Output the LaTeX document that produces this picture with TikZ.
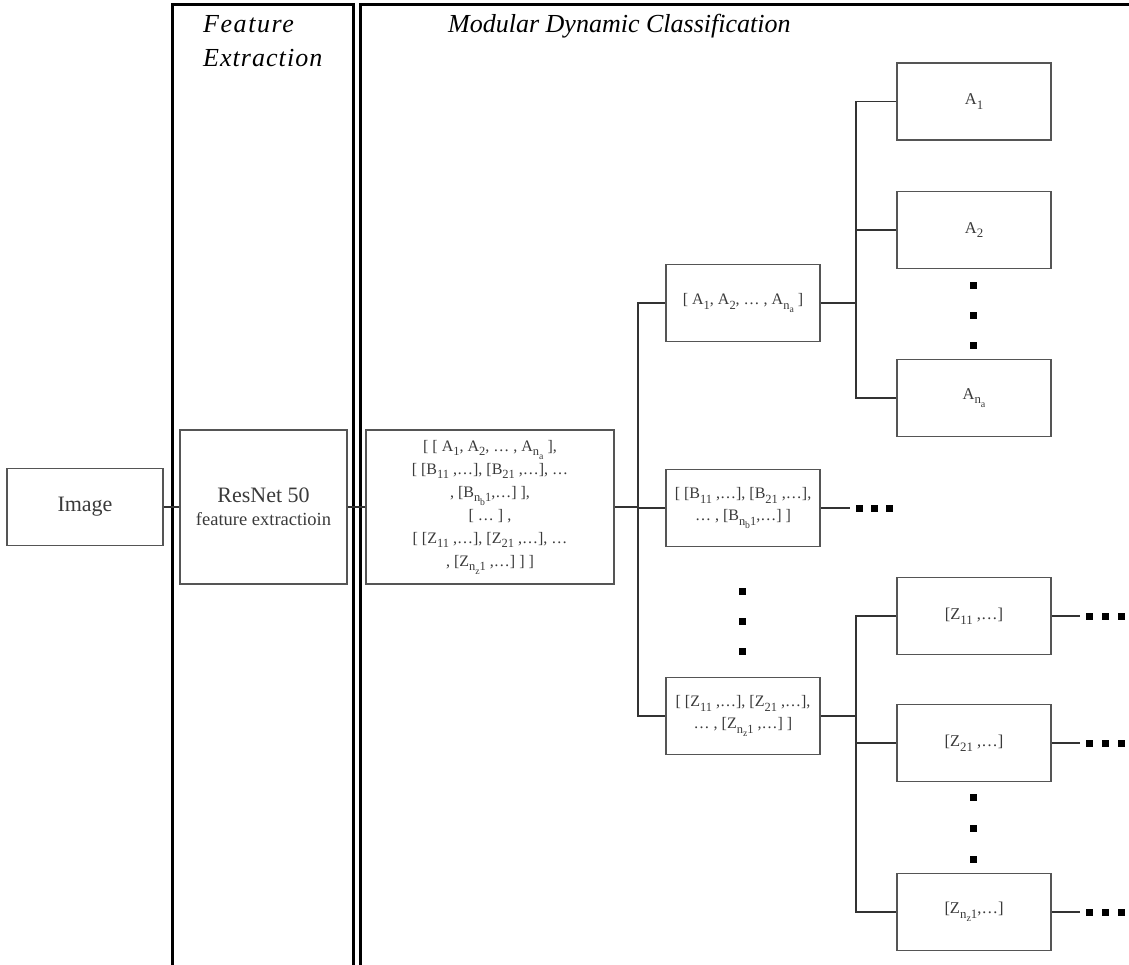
\documentclass[tikz,border=0pt]{standalone}
\usepackage{graphicx}
\usepackage{fontspec}
\setmainfont{Liberation Serif}
\definecolor{boxline}{HTML}{555555}
\definecolor{boxtext}{HTML}{3A3A3A}
% lowered, slightly reduced index
\newcommand{\sbs}[1]{\raisebox{-0.28em}{\scalebox{0.78}{#1}}}
\begin{document}
\begin{tikzpicture}[x=1pt,y=-1pt,
  box/.style={draw=boxline, line width=1.3pt, rectangle, inner sep=2pt,
    text=boxtext, align=center, minimum width=154pt, minimum height=77pt},
  panel/.style={draw=black, line width=3pt},
  link/.style={draw=black!80, line width=1.3pt},
  dotsq/.style={fill=black, rectangle, inner sep=0pt, minimum size=7pt},
  title/.style={font=\fontsize{26}{34}\selectfont\itshape, anchor=base west, inner sep=0pt},
  listfont/.style={font=\fontsize{16}{23}\selectfont},
  leaffont/.style={font=\fontsize{16.5}{20}\selectfont}]
\useasboundingbox (0,0) rectangle (1129,964);

% stage panels
\draw[panel] (172,970) -- (172,4) -- (353,4) -- (353,970);
\draw[panel] (360,970) -- (360,4) -- (1135,4);
\node[title] (tfe1) at (203,32) {\addfontfeature{LetterSpace=6}Feature};
\node[title] (tfe2) at (203,66) {\addfontfeature{LetterSpace=4}Extraction};
\node[title] (tmdc) at (448,32) {Modular Dynamic Classification};

% input and backbone
\node[box, minimum width=156pt, font=\fontsize{22}{26}\selectfont] (img) at (85,507) {Image};
\node[box, minimum width=167pt, minimum height=154pt, font=\fontsize{22}{23}\selectfont] (resnet) at (263.5,507)
  {ResNet 50\\{\fontsize{18.5}{23}\selectfont feature extractioin}};
\node[box, minimum width=248pt, minimum height=154pt, listfont] (big) at (490,507)
  {{[} [ A\sbs{1}, A\sbs{2}, … , A\sbs{n\sbs{a}} ],\\
   {[} [B\sbs{11} ,…], [B\sbs{21} ,…], …\\
   , [B\sbs{n\sbs{b}1},…] ],\\
   {[} … ] ,\\
   {[} [Z\sbs{11} ,…], [Z\sbs{21} ,…], …\\
   , [Z\sbs{n\sbs{z}1} ,…] ] ]};

% second level
\node[box, listfont] (la) at (743,303) {{[} A\sbs{1}, A\sbs{2}, … , A\sbs{n\sbs{a}} ]};
\node[box, listfont, font=\fontsize{16}{22}\selectfont] (lb) at (743,508) {{[} [B\sbs{11} ,…], [B\sbs{21} ,…],\\ … , [B\sbs{n\sbs{b}1},…] ]};
\node[box, listfont, font=\fontsize{16}{22}\selectfont] (lz) at (743,716) {{[} [Z\sbs{11} ,…], [Z\sbs{21} ,…],\\ … , [Z\sbs{n\sbs{z}1} ,…] ]};

% third level
\node[box, leaffont] (a1) at (974,101.5) {A\sbs{1}};
\node[box, leaffont] (a2) at (974,230) {A\sbs{2}};
\node[box, leaffont] (ana) at (974,398) {A\sbs{n\sbs{a}}};
\node[box, leaffont] (z11) at (974,616) {{[}Z\sbs{11} ,…]};
\node[box, leaffont] (z21) at (974,743) {{[}Z\sbs{21} ,…]};
\node[box, leaffont] (zn) at (974,912) {{[}Z\sbs{n\sbs{z}1},…]};

% branching points
\coordinate (t1) at (638,507);
\coordinate (t2) at (856,303);
\coordinate (t3) at (856,716);

\draw[link] (img.east) -- (resnet.west);
\draw[link] (resnet.east) -- (big.west);
\draw[link] (big.east) -- (t1);
\draw[link] (la.west) -| (t1) |- (lz.west);
\draw[link] (lb.west) -- (lb.west -| t1);

\draw[link] (la.east) -- (t2);
\draw[link] (a1.west) -| (t2) |- (ana.west);
\draw[link] (a2.west) -- (a2.west -| t2);

\draw[link] (lz.east) -- (t3);
\draw[link] (z11.west) -| (t3) |- (zn.west);
\draw[link] (z21.west) -- (z21.west -| t3);

% continuation marks
\coordinate (eb) at (850,508);
\draw[link] (lb.east) -- (eb);
\node[dotsq] (db1) at (859,508) {};
\node[dotsq] (db2) at (874,508) {};
\node[dotsq] (db3) at (889,508) {};

\foreach \n/\y in {z11/616, z21/743, zn/912}{
  \coordinate (e\n) at (1080,\y);
  \draw[link] (\n.east) -- (e\n);
  \node[dotsq] (d\n1) at (1089,\y) {};
  \node[dotsq] (d\n2) at (1105,\y) {};
  \node[dotsq] (d\n3) at (1121,\y) {};
}

\foreach \i/\y in {1/591, 2/621, 3/651}
  \node[dotsq] (vm\i) at (742,\y) {};
\foreach \i/\y in {1/285, 2/315, 3/345}
  \node[dotsq] (va\i) at (973,\y) {};
\foreach \i/\y in {1/797, 2/828, 3/859}
  \node[dotsq] (vz\i) at (973,\y) {};
\end{tikzpicture}
\end{document}
